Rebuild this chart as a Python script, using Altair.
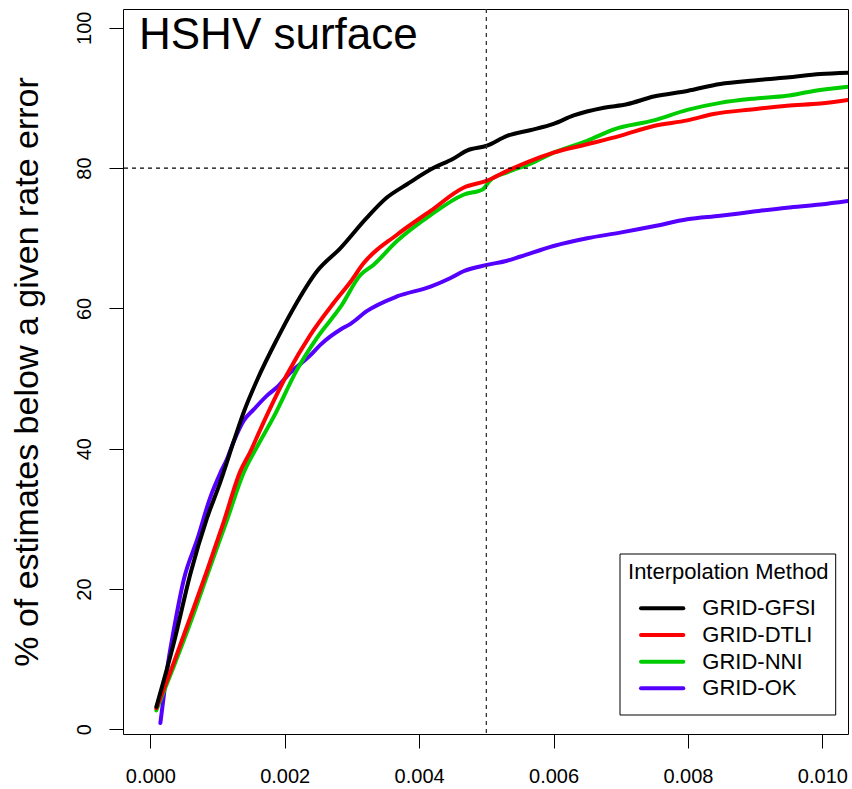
import altair as alt
import pandas as pd

FONT = "Liberation Sans"

series_names = ["GRID-GFSI", "GRID-DTLI", "GRID-NNI", "GRID-OK"]
series_colors = ["#000000", "#FF0000", "#00CD00", "#5500FF"]

gfsi_x = [0.00009, 0.00035, 0.00060, 0.00084, 0.00104, 0.00124, 0.00139, 0.00159, 0.00189, 0.00213,
          0.00248, 0.00283, 0.00322, 0.00352, 0.00382, 0.00421, 0.00450, 0.00471, 0.00501, 0.00531,
          0.00565, 0.00600, 0.00630, 0.00675, 0.00709, 0.00749, 0.00799, 0.00848, 0.00898, 0.00947,
          0.00997, 0.01038]
gfsi_y = [3.2, 12.3, 22.3, 30.0, 35.2, 41.0, 45.2, 49.8, 55.7, 60.0,
          65.3, 68.6, 72.9, 75.8, 77.7, 80.0, 81.3, 82.5, 83.2, 84.6,
          85.4, 86.3, 87.5, 88.6, 89.1, 90.2, 91.0, 92.0, 92.5, 92.9,
          93.4, 93.6]

dtli_x = [0.00009, 0.00035, 0.00060, 0.00084, 0.00109, 0.00134, 0.00149, 0.00164, 0.00203, 0.00238,
          0.00273, 0.00298, 0.00317, 0.00367, 0.00417, 0.00466, 0.00501, 0.00531, 0.00565, 0.00600,
          0.00650, 0.00699, 0.00749, 0.00799, 0.00838, 0.00898, 0.00947, 0.00997, 0.01038]
dtli_y = [3.0, 9.5, 16.1, 22.5, 29.5, 36.8, 39.6, 42.8, 50.5, 56.2,
          60.8, 63.8, 66.4, 70.5, 73.9, 77.2, 78.2, 79.6, 81.0, 82.2,
          83.4, 84.6, 86.0, 86.8, 87.7, 88.4, 88.9, 89.2, 89.7]

nni_x = [0.00009, 0.00035, 0.00060, 0.00087, 0.00114, 0.00139, 0.00159, 0.00184, 0.00218, 0.00248,
         0.00283, 0.00313, 0.00332, 0.00367, 0.00417, 0.00466, 0.00495, 0.00505, 0.00531, 0.00565,
         0.00600, 0.00650, 0.00689, 0.00749, 0.00799, 0.00848, 0.00898, 0.00947, 0.00987, 0.01038]
nni_y = [2.7, 9.0, 15.3, 22.6, 29.8, 36.6, 40.3, 44.6, 51.2, 55.8,
         60.2, 64.8, 66.2, 69.6, 73.3, 76.2, 77.0, 78.2, 79.4, 80.6,
         82.2, 83.9, 85.5, 86.8, 88.3, 89.3, 89.9, 90.3, 91.0, 91.6]

ok_x = [0.00015, 0.00020, 0.00025, 0.00035, 0.00050, 0.00070, 0.00089, 0.00104, 0.00114, 0.00124,
        0.00139, 0.00154, 0.00174, 0.00189, 0.00208, 0.00238, 0.00253, 0.00268, 0.00283, 0.00298,
        0.00322, 0.00367, 0.00417, 0.00446, 0.00466, 0.00501, 0.00531, 0.00551, 0.00600, 0.00650,
        0.00699, 0.00749, 0.00799, 0.00848, 0.00898, 0.00947, 0.00997, 0.01038]
ok_y = [0.9, 4.7, 8.5, 14.2, 21.4, 27.1, 33.0, 36.5, 38.5, 41.0,
        44.0, 45.6, 47.6, 48.8, 50.8, 53.3, 54.8, 56.0, 57.0, 57.8,
        59.6, 61.7, 63.1, 64.3, 65.3, 66.2, 66.8, 67.4, 68.9, 70.0,
        70.8, 71.7, 72.7, 73.2, 73.8, 74.35, 74.8, 75.3]

x_ticks = [0.0, 0.002, 0.004, 0.006, 0.008, 0.010]
y_ticks = [0, 20, 40, 60, 80, 100]
ref_x = [0.005]
ref_y = [80]

x_enc = alt.X(
    "x:Q",
    scale=alt.Scale(domain=[-0.000406, 0.010381], nice=False, zero=False),
    axis=alt.Axis(values=x_ticks, format=".3f", title=None, domain=False, grid=False,
                  tickSize=14, tickColor="black", tickWidth=1,
                  labelFont=FONT, labelFontSize=20, labelColor="black",
                  labelPadding=34, labelBaseline="alphabetic",
                  labelFlush=False, labelOverlap=False),
)
y_enc = alt.Y(
    "y:Q",
    scale=alt.Scale(domain=[-0.67, 102.68], nice=False, zero=False),
    axis=alt.Axis(values=y_ticks, format="d", domain=False, grid=False,
                  tickSize=14, tickColor="black", tickWidth=1,
                  labelFont=FONT, labelFontSize=20, labelColor="black",
                  labelAngle=270, labelAlign="center", labelBaseline="alphabetic",
                  labelPadding=19, labelFlush=False, labelOverlap=False,
                  title="% of estimates below a given rate error",
                  titleFont=FONT, titleFontSize=34, titleFontWeight="normal",
                  titleColor="black", titleAngle=270, titleAlign="center",
                  titleBaseline="alphabetic", titleX=-86, titleY=362.5),
)

def line_layer(xs, ys, color):
    df = pd.DataFrame({"x": xs, "y": ys})
    return alt.Chart(df).mark_line(color=color, strokeWidth=4, strokeCap="round",
                                   strokeJoin="round", clip=True,
                                   interpolate="monotone").encode(x=x_enc, y=y_enc)

lines = [
    line_layer(ok_x, ok_y, series_colors[3]),
    line_layer(nni_x, nni_y, series_colors[2]),
    line_layer(dtli_x, dtli_y, series_colors[1]),
    line_layer(gfsi_x, gfsi_y, series_colors[0]),
]

vline = alt.Chart(pd.DataFrame({"x": ref_x})).mark_rule(
    color="#333333", strokeWidth=1.3, strokeDash=[4, 4]).encode(x=x_enc)
hline = alt.Chart(pd.DataFrame({"y": ref_y})).mark_rule(
    color="black", strokeWidth=1.2, strokeDash=[4, 4]).encode(y=y_enc)

title_txt = alt.Chart(pd.DataFrame({"t": ["HSHV surface"]})).mark_text(
    align="left", baseline="alphabetic", font=FONT, fontSize=44, color="black"
).encode(x=alt.value(16), y=alt.value(40.3), text="t:N")

# legend (drawn by hand, R style)
leg_box = alt.Chart(pd.DataFrame({"a": [0]})).mark_rect(
    fill="white", stroke="black", strokeWidth=1
).encode(x=alt.value(497), x2=alt.value(712.7), y=alt.value(545), y2=alt.value(706))

leg_title = alt.Chart(pd.DataFrame({"t": ["Interpolation Method"]})).mark_text(
    align="center", baseline="alphabetic", font=FONT, fontSize=22, color="black"
).encode(x=alt.value(605.3), y=alt.value(570.3), text="t:N")

leg_layers = []
row_y = [599.3, 626.0, 652.7, 679.3]
for name, col, ry in zip(series_names, series_colors, row_y):
    leg_layers.append(
        alt.Chart(pd.DataFrame({"n": [name]})).mark_rule(
            color=col, strokeWidth=4, strokeCap="round"
        ).encode(x=alt.value(518), x2=alt.value(560.3), y=alt.value(ry))
    )
    leg_layers.append(
        alt.Chart(pd.DataFrame({"n": [name]})).mark_text(
            align="left", baseline="alphabetic", font=FONT, fontSize=22, color="black"
        ).encode(x=alt.value(579.3), y=alt.value(ry + 7), text="n:N")
    )

chart = alt.layer(
    *lines, vline, hline, title_txt, leg_box, leg_title, *leg_layers
).properties(
    width=725, height=725,
    autosize=alt.AutoSizeParams(type="none"),
    padding={"left": 123, "top": 9, "right": 4, "bottom": 55},
    background="white",
).configure_view(stroke="black", strokeWidth=1)

chart.save("out.html", embed_options={"renderer": "svg", "actions": False})
